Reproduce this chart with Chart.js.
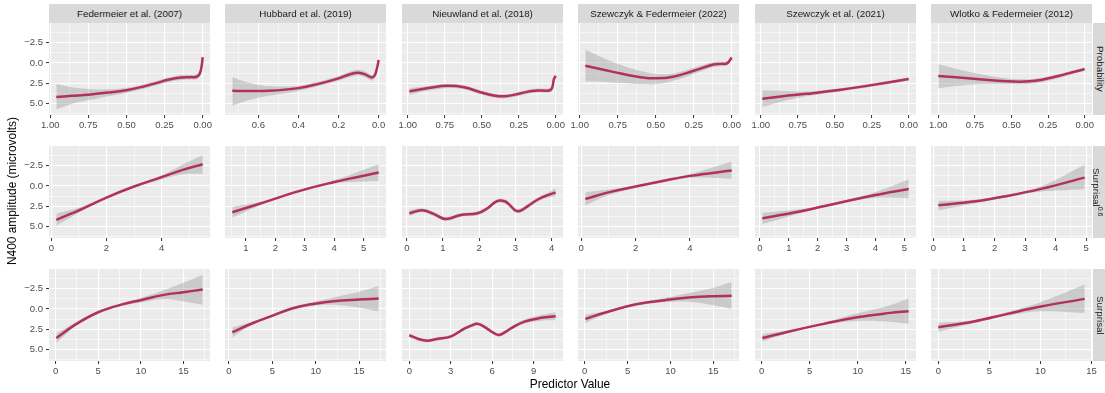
<!DOCTYPE html>
<html>
<head>
<meta charset="utf-8">
<script src="https://cdn.jsdelivr.net/npm/chart.js@4.4.1/dist/chart.umd.min.js"></script>
<style>
  html, body { margin: 0; padding: 0; background: #fff; overflow: hidden; }
  #fig { position: relative; width: 1105px; height: 393px; overflow: hidden; font-family: 'Liberation Sans', Arial, sans-serif; }
  #fig canvas { position: absolute; }
  .strip { position: absolute; background: #D9D9D9; color: #1A1A1A; font-size: 9.8px; text-align: center; white-space: nowrap; }
  .strip.top { height: 19px; line-height: 19px; }
  .strip.side { width: 14px; height: 92px; line-height: 14px; writing-mode: vertical-rl; }
  .strip sup { font-size: 7px; }
  .title { position: absolute; font-size: 11.9px; color: #000; white-space: nowrap; transform: translate(-50%, -50%); }
</style>
</head>
<body>
<div id="fig"></div>
<script>
Chart.defaults.font.family = "'Liberation Sans', Arial, sans-serif";

// facets
const studies = ['Federmeier et al. (2007)', 'Hubbard et al. (2019)', 'Nieuwland et al. (2018)',
                 'Szewczyk & Federmeier (2022)', 'Szewczyk et al. (2021)', 'Wlotko & Federmeier (2012)'];
const predictors = ['Probability', 'Surprisal', 'Surprisal'];
const predictorPowers = ['', '0.6', ''];

// tick labels
const yBreaks = ['-2.5', '0.0', '2.5', '5.0'];
const yLimits = [-4.9, 6.4];
const probBreaks = ['0.00', '0.25', '0.50', '0.75', '1.00'];
const probBreaksShort = ['0.0', '0.2', '0.4', '0.6'];
const s6Breaks2 = ['0', '2', '4'];
const s6Breaks1 = ['0', '1', '2', '3', '4', '5'];
const s6BreaksFrom1 = ['1', '2', '3', '4', '5'];
const s6Breaks4 = ['0', '1', '2', '3', '4'];
const surpBreaks = ['0', '5', '10', '15'];
const surpBreaks3 = ['0', '3', '6', '9'];

// smooths: [predictor value, fit, lower, upper]
const fed07Prob = [[0.0, -0.7, -1.0, -0.4], [0.008, 0.5, 0.2, 0.8], [0.02, 1.35, 1.05, 1.65], [0.04, 1.7, 1.4, 2.0],
  [0.08, 1.75, 1.45, 2.05], [0.14, 1.8, 1.5, 2.1], [0.22, 2.05, 1.8, 2.35], [0.30, 2.45, 2.2, 2.75],
  [0.40, 2.95, 2.7, 3.25], [0.50, 3.35, 3.05, 3.7], [0.62, 3.65, 3.25, 4.1], [0.75, 3.9, 3.2, 4.6],
  [0.86, 4.05, 3.0, 5.05], [0.96, 4.2, 2.6, 5.7]];
const hub19Prob = [[0.0, -0.35, -0.7, 0.0], [0.008, 0.6, 0.25, 0.95], [0.02, 1.55, 1.2, 1.9], [0.035, 1.8, 1.45, 2.15],
  [0.06, 1.5, 1.15, 1.85], [0.1, 1.2, 0.85, 1.55], [0.15, 1.45, 1.15, 1.8], [0.2, 1.9, 1.6, 2.2],
  [0.3, 2.58, 2.3, 2.85], [0.4, 3.1, 2.8, 3.45], [0.55, 3.43, 2.85, 4.05], [0.65, 3.45, 2.4, 4.6],
  [0.73, 3.43, 1.75, 5.25]];
const nie18Prob = [[0.0, 1.6, 1.25, 1.95], [0.012, 2.0, 1.7, 2.35], [0.025, 3.1, 2.8, 3.4], [0.045, 3.39, 3.1, 3.65],
  [0.1, 3.4, 3.15, 3.65], [0.16, 3.45, 3.2, 3.7], [0.24, 3.75, 3.5, 4.0], [0.34, 4.1, 3.85, 4.35],
  [0.42, 4.0, 3.75, 4.25], [0.51, 3.6, 3.35, 3.85], [0.62, 3.0, 2.75, 3.25], [0.73, 2.82, 2.55, 3.1],
  [0.85, 3.05, 2.8, 3.35], [0.99, 3.5, 3.1, 3.9]];
const sze22Prob = [[0.0, -0.65, -0.95, -0.35], [0.03, 0.05, -0.2, 0.3], [0.07, 0.12, -0.15, 0.4], [0.12, 0.2, -0.1, 0.5],
  [0.25, 0.97, 0.6, 1.35], [0.385, 1.7, 1.3, 2.2], [0.49, 1.9, 1.35, 2.6], [0.6, 1.75, 1.0, 2.6],
  [0.78, 1.1, -0.1, 2.4], [0.963, 0.36, -1.6, 2.3]];
const sze21Prob = [[0.0, 1.98, 1.8, 2.15], [0.24, 2.7, 2.5, 2.9], [0.46, 3.3, 3.1, 3.5], [0.69, 3.8, 3.5, 4.1],
  [0.85, 4.1, 3.45, 4.7], [0.99, 4.4, 3.4, 5.4]];
const wlo12Prob = [[0.0, 0.77, 0.55, 1.0], [0.07, 1.09, 0.9, 1.3], [0.18, 1.6, 1.35, 1.9], [0.3, 2.1, 1.85, 2.4],
  [0.41, 2.3, 2.0, 2.6], [0.53, 2.26, 1.9, 2.6], [0.76, 1.94, 1.2, 2.65], [1.0, 1.6, 0.16, 3.1]];

const fed07S6 = [[0.18, 4.18, 3.4, 4.9], [1.16, 2.75, 2.5, 3.0], [2.0, 1.43, 1.3, 1.55], [3.0, 0.08, -0.05, 0.2],
  [4.0, -1.07, -1.3, -0.8], [4.76, -1.97, -2.6, -1.4], [5.49, -2.66, -3.8, -1.5]];
const hub19S6 = [[0.54, 3.24, 2.6, 3.9], [1.69, 1.93, 1.8, 2.1], [2.83, 0.61, 0.5, 0.75], [3.97, -0.45, -0.65, -0.25],
  [4.8, -1.1, -1.7, -0.5], [5.51, -1.64, -2.7, -0.6]];
const nie18S6 = [[0.07, 3.36, 3.0, 3.7], [0.42, 2.99, 2.75, 3.25], [0.74, 3.44, 3.2, 3.7], [1.07, 4.06, 3.8, 4.3],
  [1.49, 3.57, 3.35, 3.8], [1.95, 3.36, 3.15, 3.6], [2.23, 2.75, 2.5, 3.0], [2.42, 2.05, 1.8, 2.3],
  [2.56, 1.8, 1.55, 2.05], [2.7, 1.89, 1.65, 2.15], [2.79, 2.13, 1.9, 2.4], [2.98, 2.95, 2.7, 3.2],
  [3.07, 3.1, 2.85, 3.35], [3.16, 3.0, 2.75, 3.25], [3.35, 2.46, 2.2, 2.7], [3.63, 1.64, 1.4, 1.9],
  [3.91, 1.1, 0.8, 1.4], [4.11, 0.82, 0.3, 1.3]];
const sze22S6 = [[0.15, 1.6, 0.8, 2.4], [1.0, 0.8, 0.45, 1.15], [2.0, 0.08, -0.05, 0.25], [3.0, -0.6, -0.75, -0.45],
  [4.0, -1.23, -1.45, -1.0], [5.54, -1.89, -3.0, -0.9]];
const sze21S6 = [[0.08, 3.98, 3.3, 4.7], [1.63, 2.95, 2.75, 3.15], [2.79, 2.05, 1.9, 2.2], [3.95, 1.15, 0.8, 1.5],
  [5.15, 0.37, -0.8, 1.5]];
const wlo12S6 = [[0.16, 2.38, 1.85, 3.0], [1.32, 1.93, 1.7, 2.15], [2.42, 1.23, 1.05, 1.4], [3.52, 0.37, 0.05, 0.7],
  [4.95, -1.02, -2.6, 0.4]];

const fed07Surp = [[0.08, 3.57, 3.0, 4.2], [2.45, 1.84, 1.6, 2.05], [5.0, 0.41, 0.25, 0.55], [7.6, -0.49, -0.65, -0.35],
  [10.1, -1.1, -1.4, -0.8], [12.7, -1.72, -2.3, -1.2], [15.0, -2.05, -3.2, -0.9], [17.25, -2.38, -4.2, -0.5]];
const hub19Surp = [[0.39, 2.87, 2.3, 3.5], [2.71, 1.76, 1.55, 1.95], [5.04, 0.82, 0.65, 1.0], [7.36, -0.08, -0.25, 0.1],
  [9.69, -0.61, -0.85, -0.35], [12.0, -0.94, -1.4, -0.5], [15.0, -1.15, -2.1, -0.15], [17.25, -1.27, -2.8, 0.3]];
const nie18Surp = [[0.0, 3.24, 3.0, 3.5], [0.66, 3.69, 3.5, 3.9], [1.27, 3.9, 3.7, 4.1], [2.0, 3.69, 3.5, 3.9],
  [2.98, 3.4, 3.2, 3.6], [3.95, 2.46, 2.25, 2.65], [4.44, 2.09, 1.85, 2.3], [4.93, 1.84, 1.6, 2.05],
  [5.41, 2.17, 1.95, 2.4], [6.15, 2.99, 2.75, 3.2], [6.51, 3.2, 3.0, 3.4], [7.0, 2.79, 2.55, 3.0],
  [7.37, 2.38, 2.15, 2.6], [8.34, 1.56, 1.3, 1.8], [9.56, 1.1, 0.75, 1.45], [10.6, 0.9, 0.4, 1.4]];
const sze22Surp = [[0.08, 1.23, 0.7, 1.75], [2.53, 0.41, 0.25, 0.6], [4.87, -0.29, -0.45, -0.15], [7.2, -0.78, -0.95, -0.6],
  [9.93, -1.15, -1.45, -0.85], [12.47, -1.43, -2.0, -0.85], [15.0, -1.56, -2.6, -0.45], [17.14, -1.6, -3.3, 0.0]];
const sze21Surp = [[0.07, 3.57, 3.1, 4.0], [2.97, 2.75, 2.6, 2.9], [6.45, 1.84, 1.7, 2.0], [9.94, 1.02, 0.55, 1.5],
  [13.4, 0.49, -0.45, 1.6], [15.3, 0.29, -1.3, 1.8]];
const wlo12Surp = [[0.0, 2.25, 1.7, 2.8], [3.46, 1.56, 1.4, 1.75], [6.76, 0.61, 0.4, 0.85], [10.06, -0.29, -0.85, 0.3],
  [14.34, -1.23, -3.0, 0.5]];

const curves = [
  [fed07Prob, hub19Prob, nie18Prob, sze22Prob, sze21Prob, wlo12Prob],
  [fed07S6, hub19S6, nie18S6, sze22S6, sze21S6, wlo12S6],
  [fed07Surp, hub19Surp, nie18Surp, sze22Surp, sze21Surp, wlo12Surp]
];
const xBreaks = [
  [probBreaks, probBreaksShort, probBreaks, probBreaks, probBreaks, probBreaks],
  [s6Breaks2, s6BreaksFrom1, s6Breaks4, s6Breaks2, s6Breaks1, s6Breaks1],
  [surpBreaks, surpBreaks, surpBreaks3, surpBreaks, surpBreaks, surpBreaks]
];

// layout
const PANEL_W = 161, PANEL_H = 92;
const AXIS_W = 48, AXIS_H = 22, PAD_T = 6, PAD_R = 16;
const colLeft = c => Math.round(49 + c * 176.4);
const rowTop = [23, 146, 269];
const LINE = '#B3305D';
const BAND = 'rgba(153,153,153,0.4)';
const TICK_TEXT = '#4D4D4D';

const fig = document.getElementById('fig');

// major breaks plus the half-way minor lines inside the limits
function tickSet(breaks, lo, hi) {
  const major = breaks.map(Number);
  const step = major[1] - major[0];
  const all = major.filter(v => v >= lo && v <= hi);
  for (let i = -1; i < major.length; i++) {
    const v = major[0] + (i + 0.5) * step;
    if (v > lo && v < hi) all.push(v);
  }
  all.sort((a, b) => a - b);
  const isMajor = v => major.some(m => Math.abs(m - v) < 1e-9);
  const label = v => {
    const i = major.findIndex(m => Math.abs(m - v) < 1e-9);
    return i < 0 ? '' : breaks[i].replace('-', '\u2212');
  };
  return { all, isMajor, label };
}

function grid(ts, showTicks) {
  return {
    color: '#FFFFFF',
    lineWidth: ctx => (ctx.tick && ts.isMajor(ctx.tick.value)) ? 1.1 : 0.55,
    drawTicks: showTicks,
    tickLength: 3,
    tickWidth: 1,
    tickColor: ctx => (ctx.tick && ts.isMajor(ctx.tick.value)) ? '#333333' : 'rgba(0,0,0,0)'
  };
}

const panelBg = {
  id: 'panelBg',
  beforeDraw(chart) {
    const a = chart.chartArea, ctx = chart.ctx;
    ctx.save();
    ctx.fillStyle = '#EBEBEB';
    ctx.fillRect(a.left, a.top, a.right - a.left, a.bottom - a.top);
    ctx.restore();
  }
};

function makePanel(r, c) {
  const rows = curves[r][c];
  const xs = rows.map(d => d[0]);
  const xmin = Math.min(...xs), xmax = Math.max(...xs);
  const pad = (xmax - xmin) * 0.05;
  const lo = xmin - pad, hi = xmax + pad;
  const xt = tickSet(xBreaks[r][c], lo, hi);
  const yt = tickSet(yBreaks, yLimits[0], yLimits[1]);

  const canvas = document.createElement('canvas');
  canvas.width = AXIS_W + PANEL_W + PAD_R;
  canvas.height = PAD_T + PANEL_H + AXIS_H;
  canvas.style.left = (colLeft(c) - AXIS_W) + 'px';
  canvas.style.top = (rowTop[r] - PAD_T) + 'px';
  fig.appendChild(canvas);

  const smooth = { pointRadius: 0, tension: 0.4 };
  new Chart(canvas, {
    type: 'line',
    data: {
      datasets: [
        Object.assign({ data: rows.map(d => ({ x: d[0], y: d[1] })), borderColor: LINE, borderWidth: 2.5, fill: false }, smooth),
        Object.assign({ data: rows.map(d => ({ x: d[0], y: d[3] })), borderColor: 'rgba(0,0,0,0)', borderWidth: 0,
          backgroundColor: BAND, fill: '+1' }, smooth),
        Object.assign({ data: rows.map(d => ({ x: d[0], y: d[2] })), borderColor: 'rgba(0,0,0,0)', borderWidth: 0,
          fill: false }, smooth)
      ]
    },
    options: {
      responsive: false,
      animation: false,
      events: [],
      layout: { autoPadding: false, padding: { left: 0, top: PAD_T, right: PAD_R, bottom: 0 } },
      plugins: { legend: { display: false }, tooltip: { enabled: false } },
      scales: {
        x: {
          type: 'linear', min: lo, max: hi, reverse: r === 0,
          afterBuildTicks: s => { s.ticks = xt.all.map(v => ({ value: v })); },
          afterFit: s => { s.height = AXIS_H; s.paddingLeft = 0; s.paddingRight = 0; },
          ticks: { autoSkip: false, maxRotation: 0, minRotation: 0, padding: 2, color: TICK_TEXT,
                   font: { size: 9.5 }, callback: v => xt.label(v) },
          grid: grid(xt, true),
          border: { display: false }
        },
        y: {
          type: 'linear', min: yLimits[0], max: yLimits[1], reverse: true,
          afterBuildTicks: s => { s.ticks = yt.all.map(v => ({ value: v })); },
          afterFit: s => { s.width = AXIS_W; s.paddingTop = 0; s.paddingBottom = 0; },
          ticks: { display: c === 0, autoSkip: false, padding: 3, color: TICK_TEXT,
                   font: { size: 9.5 }, callback: v => yt.label(v) },
          grid: grid(yt, c === 0),
          border: { display: false }
        }
      }
    },
    plugins: [panelBg]
  });
}

for (let r = 0; r < 3; r++) for (let c = 0; c < 6; c++) makePanel(r, c);

// facet strips
studies.forEach((name, c) => {
  const d = document.createElement('div');
  d.className = 'strip top';
  d.style.left = colLeft(c) + 'px';
  d.style.top = '4px';
  d.style.width = PANEL_W + 'px';
  d.textContent = name;
  fig.appendChild(d);
});
predictors.forEach((name, r) => {
  const d = document.createElement('div');
  d.className = 'strip side';
  d.style.left = '1093px';
  d.style.top = rowTop[r] + 'px';
  d.textContent = name;
  if (predictorPowers[r]) {
    const s = document.createElement('sup');
    s.textContent = predictorPowers[r];
    d.appendChild(s);
  }
  fig.appendChild(d);
});

// axis titles
const xTitle = document.createElement('div');
xTitle.className = 'title';
xTitle.style.left = '570px';
xTitle.style.top = '384px';
xTitle.textContent = 'Predictor Value';
fig.appendChild(xTitle);

const yTitle = document.createElement('div');
yTitle.className = 'title';
yTitle.style.left = '12px';
yTitle.style.top = '191px';
yTitle.style.transform = 'translate(-50%, -50%) rotate(-90deg)';
yTitle.textContent = 'N400 amplitude (microvolts)';
fig.appendChild(yTitle);
</script>
</body>
</html>
